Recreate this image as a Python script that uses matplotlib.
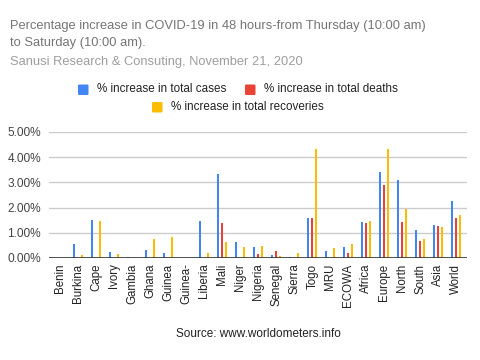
import matplotlib
matplotlib.use("Agg")
import matplotlib.pyplot as plt
from matplotlib.patches import FancyBboxPatch
from matplotlib.ticker import FuncFormatter
import numpy as np

plt.rcParams['font.family'] = ['Liberation Sans', 'DejaVu Sans']

categories = ["Benin", "Burkina", "Cape", "Ivory", "Gambia", "Ghana", "Guinea",
              "Guinea-", "Liberia", "Mali", "Niger", "Nigeria", "Senegal", "Sierra",
              "Togo", "MRU", "ECOWA", "Africa", "Europe", "North", "South", "Asia", "World"]
cases = [0.00, 0.57, 1.49, 0.22, 0.03, 0.30, 0.19, 0.00, 1.46, 3.35, 0.65, 0.42, 0.11,
         0.04, 1.57, 0.26, 0.45, 1.42, 3.43, 3.08, 1.11, 1.31, 2.28]
deaths = [0.00, 0.00, 0.00, 0.00, 0.00, 0.00, 0.00, 0.00, 0.00, 1.38, 0.00, 0.16, 0.26,
          0.00, 1.57, 0.00, 0.19, 1.38, 2.88, 1.43, 0.69, 1.27, 1.57]
recoveries = [0.00, 0.12, 1.46, 0.16, 0.00, 0.77, 0.85, 0.00, 0.19, 0.65, 0.42, 0.49, 0.08,
              0.19, 4.34, 0.38, 0.57, 1.47, 4.31, 1.96, 0.77, 1.23, 1.72]
series_names = ["% increase in total cases", "% increase in total deaths",
                "% increase in total recoveries"]
colors = ["#4285F4", "#EA4335", "#FBBC04"]
yticks = [0, 1, 2, 3, 4, 5]

W, H = 480, 360
fig = plt.figure(figsize=(4.8, 3.6), dpi=100)
ax = fig.add_axes([49.3 / W, 1 - 258 / H, (467 - 49.3) / W, (258 - 132) / H])

x = np.arange(len(categories))
off = 0.222
bw = 0.12
for vals, dx, c in zip([cases, deaths, recoveries], [-off, 0, off], colors):
    ax.bar(x + dx, vals, width=bw, color=c, zorder=3, linewidth=0)

ax.set_xlim(-0.61, len(categories) - 1 + 0.59)
ax.set_ylim(0, 5)
ax.set_yticks(yticks)
ax.yaxis.set_major_formatter(FuncFormatter(lambda v, p: f"{v:.2f}%"))
ax.grid(axis='y', color='#cccccc', linewidth=1, zorder=0)
ax.axhline(0, color='#333333', linewidth=1.2, zorder=4)
for s in ax.spines.values():
    s.set_visible(False)
ax.tick_params(axis='y', length=0, labelsize=8.6, labelcolor='#444444', pad=6)
ax.set_xticks(x)
ax.set_xticklabels(categories, rotation=90, fontsize=8.3, color='#222222')
ax.tick_params(axis='x', length=0, pad=4)

# Titles
fig.text(10 / W, 1 - 26 / H, "Percentage increase in COVID-19 in 48 hours-from Thursday (10:00 am)",
         fontsize=9.3, color='#757575', va='center', ha='left')
fig.text(10 / W, 1 - 43 / H, "to Saturday (10:00 am).",
         fontsize=9.3, color='#757575', va='center', ha='left')
fig.text(10 / W, 1 - 62 / H, "Sanusi Research & Consuting, November 21, 2020",
         fontsize=9.3, color='#9e9e9e', va='center', ha='left')

# Legend (manual, two rows)
leg_items = [(78, 89.5, 0), (245, 89.5, 1), (152, 107, 2)]
for lx, ly, i in leg_items:
    sq = FancyBboxPatch(((lx) / W, 1 - (ly + 5.5) / H), 10.5 / W, 10.5 / H,
                        boxstyle="round,pad=0,rounding_size=0.003",
                        transform=fig.transFigure, color=colors[i], linewidth=0)
    fig.patches.append(sq)
    fig.text((lx + 19) / W, 1 - ly / H, series_names[i], fontsize=8.4,
             color='#222222', va='center', ha='left')

fig.text(258 / W, 1 - 334 / H, "Source: www.worldometers.info", fontsize=8.5,
         color='#222222', va='center', ha='center')

fig.savefig("out.png", dpi=100, facecolor='white')
